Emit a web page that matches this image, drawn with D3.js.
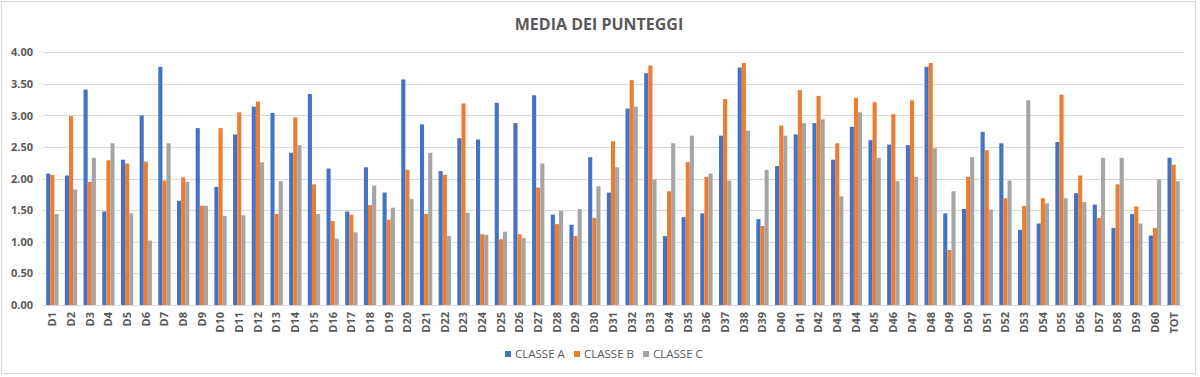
<!DOCTYPE html>
<html>
<head>
<meta charset="utf-8">
<script src="https://cdn.jsdelivr.net/npm/d3@7"></script>
<style>
  body { margin: 0; background: #fff; }
  text { font-family: "Open Sans", "Noto Sans", sans-serif; fill: #595959; }
</style>
</head>
<body>
<div id="chart"></div>
<script>
// categories D1..D60 + TOT
const categories = ["D1","D2","D3","D4","D5","D6","D7","D8","D9","D10",
  "D11","D12","D13","D14","D15","D16","D17","D18","D19","D20",
  "D21","D22","D23","D24","D25","D26","D27","D28","D29","D30",
  "D31","D32","D33","D34","D35","D36","D37","D38","D39","D40",
  "D41","D42","D43","D44","D45","D46","D47","D48","D49","D50",
  "D51","D52","D53","D54","D55","D56","D57","D58","D59","D60","TOT"]

const classeA = [2.08,2.05,3.41,1.48,2.30,3.00,3.77,1.65,2.80,1.87,
  2.70,3.14,3.04,2.41,3.34,2.16,1.48,2.18,1.78,3.57,
  2.86,2.12,2.64,2.62,3.20,2.88,3.32,1.43,1.27,2.34,
  1.78,3.11,3.67,1.09,1.39,1.45,2.68,3.76,1.36,2.20,
  2.70,2.88,2.30,2.82,2.61,2.54,2.53,3.77,1.45,1.52,
  2.74,2.56,1.19,1.29,2.58,1.77,1.59,1.22,1.44,1.10,2.33]

const classeB = [2.06,2.99,1.95,2.29,2.24,2.27,1.97,2.02,1.57,2.80,
  3.05,3.22,1.44,2.97,1.91,1.33,1.43,1.58,1.35,2.14,
  1.44,2.06,3.19,1.12,1.04,1.12,1.86,1.28,1.09,1.38,
  2.59,3.56,3.79,1.80,2.26,2.03,3.26,3.83,1.25,2.84,
  3.40,3.31,2.56,3.28,3.21,3.02,3.24,3.83,0.87,2.03,
  2.45,1.69,1.57,1.69,3.33,2.05,1.38,1.91,1.56,1.22,2.22]

const classeC = [1.44,1.83,2.33,2.56,1.45,1.02,2.56,1.95,1.57,1.41,
  1.42,2.26,1.96,2.53,1.44,1.05,1.15,1.89,1.54,1.68,
  2.41,1.09,1.46,1.11,1.16,1.06,2.24,1.49,1.52,1.88,
  2.18,3.14,1.99,2.56,2.68,2.08,1.97,2.76,2.14,2.68,
  2.88,2.94,1.72,3.05,2.33,1.96,2.03,2.48,1.80,2.34,
  1.51,1.97,3.24,1.61,1.69,1.63,2.33,2.33,1.29,1.99,1.96]

const seriesNames = ["CLASSE A", "CLASSE B", "CLASSE C"]
const colors = ["#4472C4", "#ED7D31", "#A5A5A5"]
const yTicks = [0, 0.5, 1, 1.5, 2, 2.5, 3, 3.5, 4]

const W = 1200, H = 377
const PLOT = { LEFT: 43, RIGHT: 1183, TOP: 52.3, BOTTOM: 305 }

const svg = d3.select("#chart").append("svg")
  .attr("width", W)
  .attr("height", H)

// outer border of the chart area
svg.append("rect")
  .attr("x", 1.5).attr("y", 1.5)
  .attr("width", 1194).attr("height", 372)
  .attr("fill", "#fff")
  .attr("stroke", "#D9D9D9")

svg.append("text")
  .attr("x", 599)
  .attr("y", 30)
  .attr("text-anchor", "middle")
  .style("font-size", "16px")
  .style("font-weight", "bold")
  .text("MEDIA DEI PUNTEGGI")

const y = d3.scaleLinear()
  .domain([0, 4])
  .range([PLOT.BOTTOM, PLOT.TOP])

const x0 = d3.scaleBand()
  .domain(categories)
  .range([PLOT.LEFT, PLOT.RIGHT])
  .paddingInner(0.34)
  .paddingOuter(0.17)

const x1 = d3.scaleBand()
  .domain(seriesNames)
  .range([0, x0.bandwidth()])

// gridlines
svg.append("g")
  .selectAll("line")
  .data(yTicks)
  .enter().append("line")
  .attr("x1", PLOT.LEFT)
  .attr("x2", PLOT.RIGHT)
  .attr("y1", d => Math.round(y(d)) + 0.5)
  .attr("y2", d => Math.round(y(d)) + 0.5)
  .attr("stroke", "#D9D9D9")
  .attr("stroke-width", 1)

// y axis labels
const yAxis = d3.axisLeft(y).tickValues(yTicks).tickSize(0).tickPadding(10)
  .tickFormat(d3.format(".2f"))
const yG = svg.append("g")
  .attr("transform", "translate(" + PLOT.LEFT + ",0)")
  .call(yAxis)
yG.select(".domain").remove()
yG.selectAll("text")
  .style("font-size", "11px")
  .style("font-weight", "bold")
  .style("font-family", "'Open Sans', sans-serif")
  .attr("fill", "#595959")

// bars
const allSeries = [classeA, classeB, classeC]
const groups = svg.append("g")
  .selectAll("g")
  .data(categories)
  .enter().append("g")
  .attr("transform", d => "translate(" + x0(d) + ",0)")

groups.selectAll("rect")
  .data((d, i) => seriesNames.map((s, k) => ({ s: s, v: allSeries[k][i], k: k })))
  .enter().append("rect")
  .attr("x", d => x1(d.s))
  .attr("y", d => y(d.v))
  .attr("width", x1.bandwidth())
  .attr("height", d => y(0) - y(d.v))
  .attr("fill", d => colors[d.k])

// x axis labels, rotated
const xAxis = d3.axisBottom(x0).tickSize(0).tickPadding(0)
const xG = svg.append("g")
  .attr("transform", "translate(0," + PLOT.BOTTOM + ")")
  .call(xAxis)
xG.select(".domain").remove()
xG.selectAll("text")
  .attr("transform", "rotate(-90)")
  .attr("x", -7)
  .attr("y", 0)
  .attr("dy", "0.35em")
  .attr("text-anchor", "end")
  .style("font-size", "11px")
  .style("font-weight", "bold")
  .style("font-family", "'Open Sans', sans-serif")
  .attr("fill", "#595959")

// legend
const legendX = [505, 574, 643]
const legend = svg.append("g")
  .selectAll("g")
  .data(seriesNames)
  .enter().append("g")
  .attr("transform", (d, i) => "translate(" + legendX[i] + ",351)")

legend.append("rect")
  .attr("width", 6)
  .attr("height", 6)
  .attr("fill", (d, i) => colors[i])

legend.append("text")
  .attr("x", 10)
  .attr("y", 7)
  .style("font-size", "11.5px")
  .text(d => d)
</script>
</body>
</html>
